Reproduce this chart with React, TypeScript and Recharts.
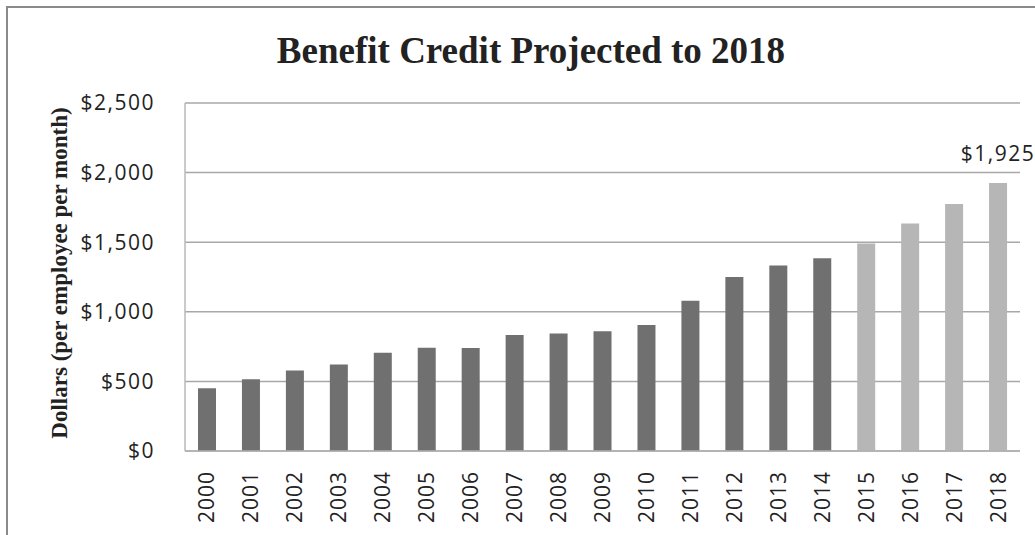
import React from 'react';
import { BarChart, Bar, XAxis, YAxis, CartesianGrid, Cell, LabelList, Label } from 'recharts';

// years on the x axis
const years = [
  '2000', '2001', '2002', '2003', '2004', '2005', '2006', '2007', '2008', '2009',
  '2010', '2011', '2012', '2013', '2014', '2015', '2016', '2017', '2018',
];

// benefit credit, dollars per employee per month
const credits = [
  450, 515, 578, 622, 705, 742, 740, 833, 845, 860,
  905, 1080, 1250, 1332, 1385, 1490, 1635, 1775, 1925,
];

// first projected year (lighter bars)
const firstProjected = '2015';

const yTicks = [0, 500, 1000, 1500, 2000, 2500];

const ACTUAL_COLOR = '#707070';
const PROJECTED_COLOR = '#b6b6b6';
const TICK_FONT = '"Open Sans", sans-serif';
const SERIF = '"Liberation Serif", "Times New Roman", serif';

const data = years.map((year, i) => ({ year, credit: credits[i] }));

const fmtDollars = (v: number) => '$' + v.toLocaleString('en-US');

const XTick = (props: any) => {
  const { x, y, payload } = props;
  const tx = x + 7.5;
  const ty = y + 12;
  return (
    <text
      x={tx}
      y={ty}
      transform={`rotate(-90, ${tx}, ${ty})`}
      textAnchor="end"
      fontFamily={TICK_FONT}
      fontSize={21}
      letterSpacing={1}
      fill="#222"
    >
      {payload.value}
    </text>
  );
};

const LastLabel = (props: any) => {
  const { x, y, width, index, value } = props;
  if (index !== years.length - 1) return null;
  return (
    <text
      x={x + width / 2}
      y={y - 22}
      textAnchor="middle"
      fontFamily={TICK_FONT}
      fontSize={21}
      letterSpacing={1.5}
      fill="#222"
    >
      {fmtDollars(value)}
    </text>
  );
};

export default function App() {
  return (
    <div style={{ position: 'absolute', left: 0, top: 0, width: 1035, height: 535, background: '#fff', overflow: 'hidden' }}>
      <div
        style={{
          position: 'absolute', left: 6, top: 6, width: 1040, height: 540,
          borderTop: '2px solid #8a8a8a', borderLeft: '2px solid #8a8a8a',
        }}
      />
      <div
        style={{
          position: 'absolute', left: 0, top: 29, width: 1062, textAlign: 'center',
          fontFamily: SERIF, fontWeight: 'bold', fontSize: 37, lineHeight: 'normal', color: '#222',
        }}
      >
        Benefit Credit Projected to 2018
      </div>
      <div style={{ position: 'absolute', left: 0, top: 0 }}>
        <BarChart
          width={1035}
          height={535}
          data={data}
          margin={{ top: 103, right: 15, bottom: 0, left: 0 }}
          barSize={18}
        >
          <CartesianGrid vertical={false} stroke="#a8a8a8" strokeWidth={1.5} />
          <XAxis
            dataKey="year"
            interval={0}
            height={84}
            tickLine={false}
            axisLine={{ stroke: '#b0b0b0', strokeWidth: 1.5 }}
            tick={<XTick />}
          />
          <YAxis
            width={185}
            domain={[0, 2500]}
            ticks={yTicks}
            tickFormatter={fmtDollars}
            tickLine={false}
            tickSize={0}
            tickMargin={30}
            axisLine={{ stroke: '#b8b8b8', strokeWidth: 1.5 }}
            tick={{ fontFamily: TICK_FONT, fontSize: 21, letterSpacing: 1.5, fill: '#222' }}
          >
            <Label
              content={() => (
                <text
                  x={67}
                  y={273}
                  transform="rotate(-90, 67, 273)"
                  textAnchor="middle"
                  fontFamily={SERIF}
                  fontWeight="bold"
                  fontSize={23}
                  fill="#222"
                >
                  Dollars (per employee per month)
                </text>
              )}
            />
          </YAxis>
          <Bar dataKey="credit" isAnimationActive={false}>
            {data.map((d) => (
              <Cell key={d.year} fill={d.year >= firstProjected ? PROJECTED_COLOR : ACTUAL_COLOR} />
            ))}
            <LabelList dataKey="credit" content={<LastLabel />} />
          </Bar>
        </BarChart>
      </div>
    </div>
  );
}
